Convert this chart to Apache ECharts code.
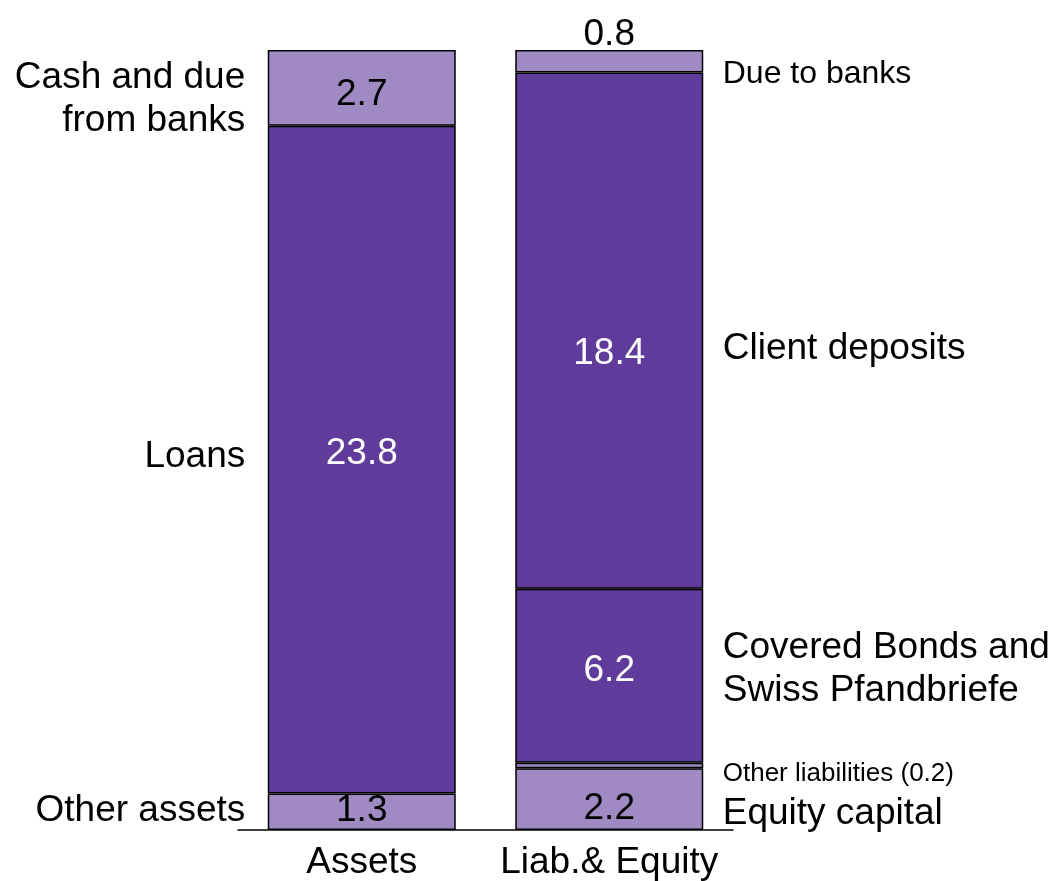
<!DOCTYPE html>
<html>
<head>
<meta charset="utf-8">
<script src="https://cdn.jsdelivr.net/npm/echarts@6/dist/echarts.min.js"></script>
<style>
  html, body { margin: 0; padding: 0; background: #fff; }
  #chart { width: 1058px; height: 881px; }
</style>
</head>
<body>
<div id="chart"></div>
<script>
// data, bottom to top in each stack
const categories = ['Assets', 'Liab.& Equity']
const assetNames = ['Other assets', 'Loans', 'Cash and due\nfrom banks']
const assetValues = [1.3, 23.8, 2.7]
const liabNames = ['Equity capital', 'Other liabilities (0.2)', 'Covered Bonds and\nSwiss Pfandbriefe', 'Client deposits', 'Due to banks']
const liabValues = [2.2, 0.2, 6.2, 18.4, 0.8]

const LIGHT = '#9f8ac4'
const DARK = '#5f3b9b'
const FONT = '"Liberation Sans", Arial, sans-serif'

// per segment styling
const assetColors = [LIGHT, DARK, LIGHT]
const liabColors = [LIGHT, LIGHT, DARK, DARK, LIGHT]
const assetValueDy = [-1, -6, 7]
const liabValueDy = [10, 0, -5, 23, 5]
const assetNameDy = [-1, -3, 11]
const liabNameDy = [15, 8, -6, 18, 13]
const liabNameSize = [37, 26, 37, 37, 32]

function barSeries(name, value, catIdx, color, dy, showValue, onTop) {
  const data = categories.map((c, i) => (i === catIdx ? value : '-'))
  return {
    type: 'bar',
    name: name,
    stack: 'total',
    barWidth: 188,
    data: data,
    itemStyle: { color: color, borderColor: '#000', borderWidth: 1.5 },
    label: {
      show: showValue,
      position: onTop ? 'top' : 'inside',
      distance: 2,
      offset: [0, dy],
      formatter: (p) => p.value.toFixed(1),
      fontFamily: FONT,
      fontSize: 37,
      color: color === DARK ? '#fff' : '#000'
    },
    emphasis: { disabled: true },
    animation: false
  }
}

function midpoints(values) {
  let acc = 0
  return values.map((v) => {
    const m = acc + v / 2
    acc += v
    return m
  })
}

function nameSeries(catIdx, names, values, side, dist, dys, sizes) {
  const mids = midpoints(values)
  return {
    type: 'scatter',
    symbolSize: 1,
    itemStyle: { color: 'transparent' },
    silent: true,
    animation: false,
    label: {
      show: true,
      color: '#000',
      fontFamily: FONT,
      fontSize: 37,
      lineHeight: 43
    },
    data: mids.map((m, i) => ({
      value: [catIdx, m],
      label: {
        show: true,
        position: side,
        distance: dist,
        offset: [0, dys[i]],
        formatter: names[i],
        align: side === 'left' ? 'right' : 'left',
        fontFamily: FONT,
        fontSize: sizes ? sizes[i] : 37,
        lineHeight: 43,
        color: '#000',
        opacity: 1
      }
    }))
  }
}

const series = []
assetValues.forEach((v, i) => {
  series.push(barSeries(assetNames[i], v, 0, assetColors[i], assetValueDy[i], true, false))
})
liabValues.forEach((v, i) => {
  const showValue = v >= 0.5
  const onTop = i === liabValues.length - 1
  series.push(barSeries(liabNames[i], v, 1, liabColors[i], liabValueDy[i], showValue, onTop))
})
series.push(nameSeries(0, assetNames, assetValues, 'left', 116, assetNameDy, null))
series.push(nameSeries(1, liabNames, liabValues, 'right', 113, liabNameDy, liabNameSize))

const chart = echarts.init(document.getElementById('chart'))
chart.setOption({
  backgroundColor: '#fff',
  grid: { left: 238, right: 325, top: 50, bottom: 49 },
  xAxis: {
    type: 'category',
    data: categories,
    axisLine: { lineStyle: { color: '#000', width: 1.5 } },
    axisTick: { show: false },
    axisLabel: { interval: 0, fontFamily: FONT, fontSize: 37, color: '#000', margin: 14 }
  },
  yAxis: {
    type: 'value',
    min: 0,
    max: 27.8,
    show: false
  },
  series: series
})
</script>
</body>
</html>
